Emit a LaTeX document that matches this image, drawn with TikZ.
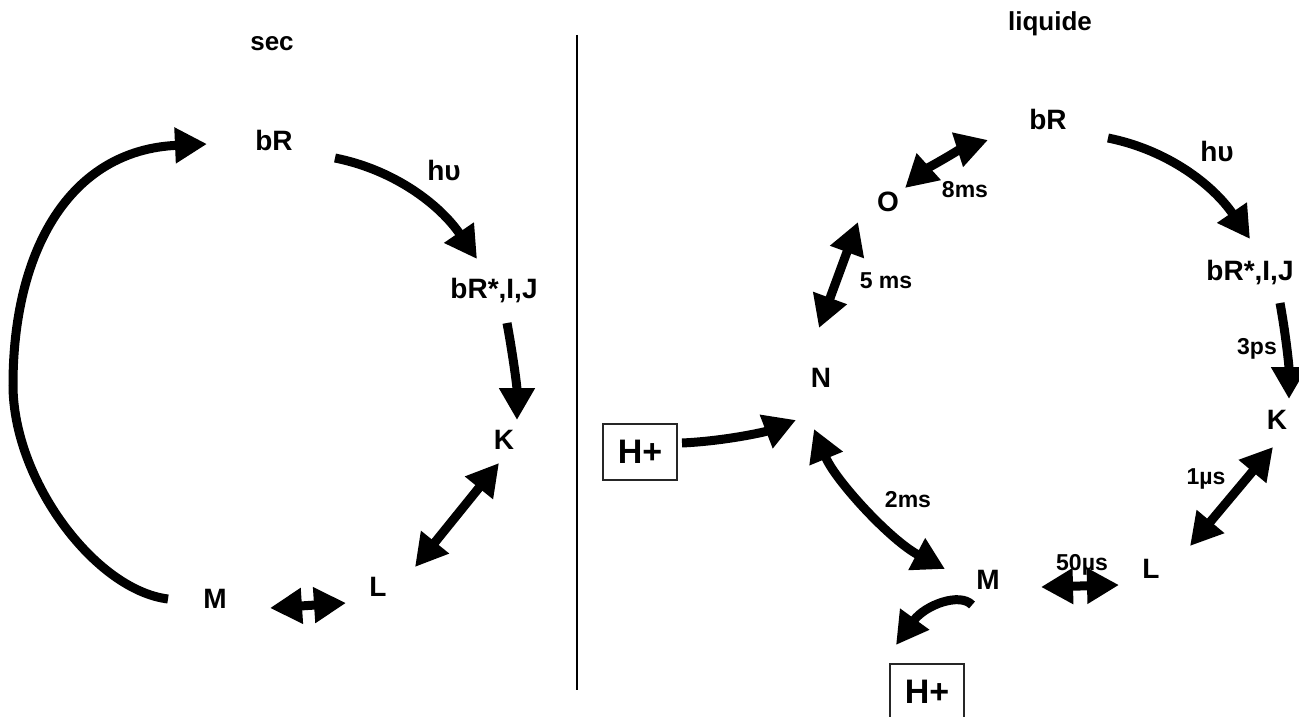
\documentclass[tikz,border=0pt]{standalone}
\usepackage{fontspec}
\setmainfont{Liberation Sans}
\usetikzlibrary{arrows.meta}

\tikzset{
  state/.style={font=\bfseries\fontsize{28}{31}\selectfont, inner sep=0pt},
  phase/.style={font=\bfseries\fontsize{26}{30}\selectfont, inner sep=0pt},
  delay/.style={font=\bfseries\fontsize{23}{26}\selectfont, inner sep=0pt},
  proton/.style={draw=black!85, line width=1.3pt, font=\bfseries\fontsize{34}{38}\selectfont,
    minimum width=74pt, minimum height=56pt, inner sep=0pt},
  flow/.style={line width=9pt, -{Triangle[length=32pt,width=34pt]}},
  eqlb/.style={line width=9pt, {Triangle[length=32pt,width=34pt]}-{Triangle[length=32pt,width=34pt]}},
}

\begin{document}
\begin{tikzpicture}[x=1pt, y=-1pt]
\fill[white] (0,0) rectangle (1299,717);
\useasboundingbox (0,0) rectangle (1299,717);

% Scheidingslijn
\draw[line width=2pt] (577,35) -- (577,690);

% Cyclus sec
\node[phase] (secT) at (272,44) {sec};
\node[state] (bRs)  at (274,140) {bR};
\node[state] (hvs)  at (444,170) {hυ};
\node[state] (bRes) at (494,291) {bR*,I,J};
\node[state] (Ks)   at (504,440) {K};
\node[state] (Ls)   at (378,587) {L};
\node[state] (Ms)   at (215,599) {M};
\coordinate (loopW) at (13,385);

\draw[flow] ([shift={(61,18)}]bRs.center) .. controls +(60,12) and +(-37,-54) .. ([shift={(-17,-32)}]bRes.center);
\draw[flow] ([shift={(13,32)}]bRes.center) .. controls +(5,27) and +(0,-35) .. ([shift={(13,-20)}]Ks.center);
\draw[eqlb] ([shift={(-5,23)}]Ks.center) -- ([shift={(37,-20)}]Ls.center);
\draw[eqlb] ([shift={(55,9)}]Ms.center) -- ([shift={(-32,16)}]Ls.center);
\draw[flow] ([shift={(-47,0)}]Ms.center) .. controls +(-73,-9) and +(0,95) .. (loopW)
    .. controls +(0,-135) and +(-137,6) .. ([shift={(-67,4)}]bRs.center);

% Cyclus liquide
\node[phase] (liqT) at (1050,24) {liquide};
\node[state] (bRl)  at (1048,119) {bR};
\node[state] (hvl)  at (1217,151) {hυ};
\node[state] (bRel) at (1250,273) {bR*,I,J};
\node[state] (Kl)   at (1277,420) {K};
\node[state] (Ll)   at (1151,569) {L};
\node[state] (Ml)   at (988,580) {M};
\node[state] (Nl)   at (821,378) {N};
\node[state] (Ol)   at (888,202) {O};

% Tijdconstanten
\node[delay] (t8)  at (965,190) {8ms};
\node[delay] (t5)  at (886,281) {5 ms};
\node[delay] (t3)  at (1257,349) {3ps};
\node[delay] (t1)  at (1206,479) {1µs};
\node[delay] (t2)  at (908,500) {2ms};
\node[delay] (t50) at (1082,565) {50µs};

% Protonen
\node[proton] (Hin)  at (640,452) {H+};
\node[proton] (Hout) at (927,692) {H+};

\draw[flow] ([shift={(60,19)}]bRl.center) .. controls +(60,12) and +(-37,-54) .. ([shift={(0,-34)}]bRel.center);
\draw[flow] ([shift={(30,30)}]bRel.center) .. controls +(5,27) and +(0,-35) .. ([shift={(12,-21)}]Kl.center);
\draw[eqlb] ([shift={(-4,27)}]Kl.center) -- ([shift={(39,-23)}]Ll.center);
\draw[eqlb] ([shift={(53,7)}]Ml.center) -- ([shift={(-32,16)}]Ll.center);
\draw[eqlb] ([shift={(-7,51)}]Nl.center) .. controls +(21,51) and +(-55,-29) .. ([shift={(-43,-11)}]Ml.center);
\draw[eqlb] ([shift={(-2,-50)}]Nl.center) -- ([shift={(-30,20)}]Ol.center);
\draw[eqlb] ([shift={(17,-14)}]Ol.center) .. controls +(20,-18) and +(-25,8) .. ([shift={(-60,21)}]bRl.center);
\draw[flow] ([shift={(42,-9)}]Hin.center) .. controls +(43,-2) and +(-31,12) .. ([shift={(-25,42)}]Nl.center);
\draw[flow] ([shift={(-16,25)}]Ml.center) .. controls +(-12,-13) and +(29,-40) .. ([shift={(-31,-47)}]Hout.center);
\end{tikzpicture}
\end{document}
